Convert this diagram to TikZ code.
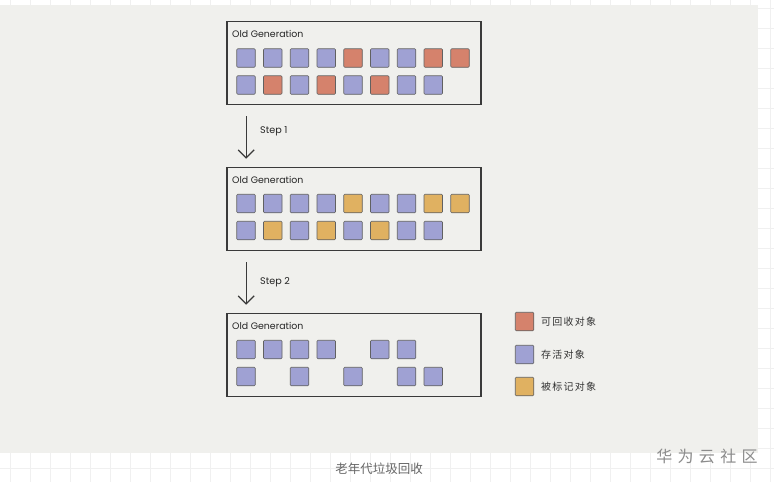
\documentclass[tikz,border=0pt]{standalone}
\usepackage{fontspec}
\setmainfont{Poppins}
\newfontfamily\cjk{Noto Sans CJK SC}
\newfontfamily\cjkwide[LetterSpace=12]{Noto Sans CJK SC}
\usetikzlibrary{arrows.meta}

\definecolor{paper}{HTML}{F0F0ED}
\definecolor{gridline}{HTML}{F0F0F0}
\definecolor{inkline}{HTML}{3A3A3A}
\definecolor{liveobj}{HTML}{9FA1D3}
\definecolor{garbage}{HTML}{D5826C}
\definecolor{marked}{HTML}{E0B161}

\tikzset{
  genbox/.style={draw=inkline, line width=1.6pt, minimum width=254pt, minimum height=83pt, inner sep=0pt},
  genlabel/.style={anchor=west, inner sep=0pt, font=\fontsize{9.4}{11}\selectfont, text=black!85},
  obj/.style={draw=inkline!80, line width=0.6pt, rounded corners=1pt, minimum size=18.5pt, inner sep=0pt},
  steparrow/.style={draw=inkline, line width=1.2pt, -{Straight Barb[length=8pt,width=16pt,line width=1.2pt]}},
  steplabel/.style={anchor=west, inner sep=0pt, font=\fontsize{9.6}{11}\selectfont, text=black!85},
  legendtext/.style={anchor=west, inner sep=0pt, font=\cjkwide\fontsize{10}{11}\selectfont, text=black!80},
}

\begin{document}
\begin{tikzpicture}[x=1pt, y=-1pt]

    \useasboundingbox (0,0) rectangle (774,482);
    \fill[white] (0,0) rectangle (774,482);
    \foreach \g in {10,30,...,770} \draw[gridline, line width=0.6pt] (\g,0) -- (\g,482);
    \foreach \g in {8,28,...,480} \draw[gridline, line width=0.6pt] (0,\g) -- (774,\g);
    \fill[paper] (0,5) rectangle (758,453);

    \foreach \n/\t in {1/21,2/167,3/313} {
        \node[genbox] (box\n) at (354,{\t+42}) {};
        \node[genlabel] (gen\n) at (232,{\t+13}) {Old Generation};
    }

    % box 1
    \foreach \c [count=\i] in {liveobj,liveobj,liveobj,liveobj,garbage,liveobj,liveobj,garbage,garbage}
        \node[obj, fill=\c] (a\i) at ({246+26.75*(\i-1)},58) {};
    \foreach \c [count=\i] in {liveobj,garbage,liveobj,garbage,liveobj,garbage,liveobj,liveobj}
        \node[obj, fill=\c] (b\i) at ({246+26.75*(\i-1)},85) {};

    % box 2
    \foreach \c [count=\i] in {liveobj,liveobj,liveobj,liveobj,marked,liveobj,liveobj,marked,marked}
        \node[obj, fill=\c] (c\i) at ({246+26.75*(\i-1)},203.5) {};
    \foreach \c [count=\i] in {liveobj,marked,liveobj,marked,liveobj,marked,liveobj,liveobj}
        \node[obj, fill=\c] (d\i) at ({246+26.75*(\i-1)},230.5) {};

    % box 3
    \foreach \i in {1,2,3,4,6,7}
        \node[obj, fill=liveobj] (e\i) at ({246+26.75*(\i-1)},349.5) {};
    \foreach \i in {1,3,5,7,8}
        \node[obj, fill=liveobj] (f\i) at ({246+26.75*(\i-1)},376.5) {};

    \draw[steparrow] ([xshift=20pt,yshift=-11pt]box1.south west) -- ([xshift=20pt,yshift=8pt]box2.north west);
    \node[steplabel] (step1) at (260,131) {Step 1};
    \draw[steparrow] ([xshift=20pt,yshift=-11pt]box2.south west) -- ([xshift=20pt,yshift=8pt]box3.north west);
    \node[steplabel] (step2) at (260,282) {Step 2};

    \node[obj, fill=garbage] (lg1) at (524.5,321.5) {};
    \node[legendtext] (lt1) at (541,322) {可回收对象};
    \node[obj, fill=liveobj] (lg2) at (524.5,354.5) {};
    \node[legendtext] (lt2) at (541,355) {存活对象};
    \node[obj, fill=marked] (lg3) at (524.5,386.5) {};
    \node[legendtext] (lt3) at (541,387) {被标记对象};

    \node[font=\cjk\fontsize{12.5}{14}\selectfont, text=black!60, inner sep=0pt] (caption) at (379,469) {老年代垃圾回收};
    \node[font=\cjk\fontsize{16}{17}\selectfont, text=black!45, inner sep=0pt] (mark) at (707,456) {华\,\,为\,\,云\,\,社\,\,区};

\end{tikzpicture}
\end{document}
